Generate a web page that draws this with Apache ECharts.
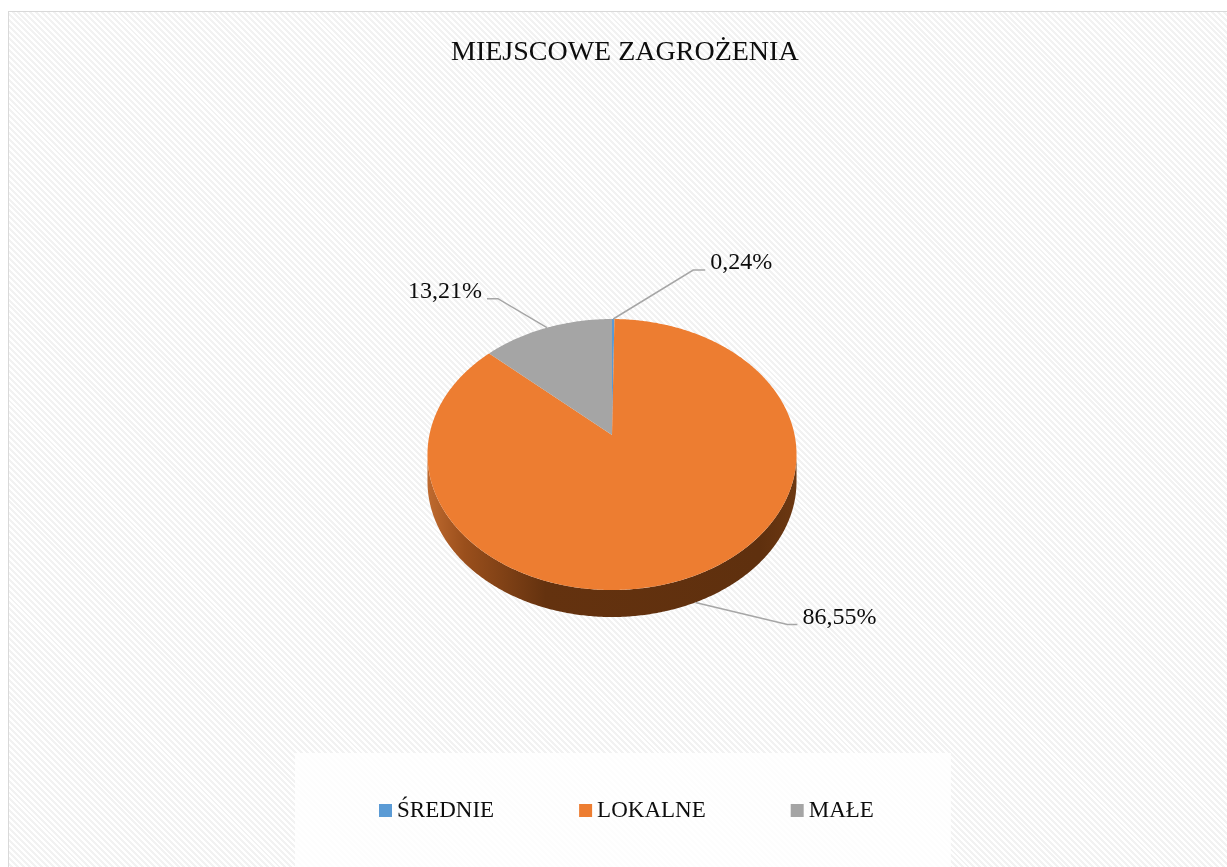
<!DOCTYPE html>
<html>
<head>
<meta charset="utf-8">
<script src="https://cdn.jsdelivr.net/npm/echarts@6/dist/echarts.min.js"></script>
<style>
  html, body { margin: 0; padding: 0; background: #fff; overflow: hidden; }
  .frame {
    position: absolute; left: 8px; top: 11px; width: 1240px; height: 880px;
    border: 1.5px solid #d9d9d9;
    background: repeating-linear-gradient(45deg, #ffffff 0 2.1px, #f2f2f2 2.1px 4.2px);
  }
  #chart { position: absolute; left: 0; top: 0; width: 1227px; height: 867px; }
</style>
</head>
<body>
<div class="frame"></div>
<div id="chart"></div>
<script>
const categories = ["ŚREDNIE", "LOKALNE", "MAŁE"];
const values = [0.24, 86.55, 13.21];
const valueLabels = ["0,24%", "86,55%", "13,21%"];
const colors = ["#5b9bd5", "#ed7d31", "#a5a5a5"];

// 3D pie look: perspective-tilted disc
const pie = { cx: 612, cy: 435, a: 182.6, b: 132.7, p: -0.144, depth: 27 };
// leader line offsets per slice: [elbow dx, elbow dy, horizontal run]
const leaders = [[80, -49, 12], [92, 22, 10], [-49, -29, -11]];

const total = values.reduce((s, v) => s + v, 0);
const starts = values.map((_, i) => values.slice(0, i).reduce((s, v) => s + v, 0) / total * Math.PI * 2);

function proj(t, drop) {
  const u = Math.sin(t), v = -Math.cos(t);
  const w = 1 + pie.p * v;
  return [pie.cx + pie.a * u / w, pie.cy + pie.b * v / w + (drop || 0)];
}
function arc(t0, t1, drop) {
  const n = Math.max(2, Math.ceil((t1 - t0) / (Math.PI / 360)) + 1);
  const pts = [];
  for (let k = 0; k < n; k++) pts.push(proj(t0 + (t1 - t0) * k / (n - 1), drop));
  return pts;
}

const wallLo = Math.acos(pie.p), wallHi = Math.PI * 2 - Math.acos(pie.p);
const wallFill = new echarts.graphic.LinearGradient(pie.cx - pie.a * 1.01, 0, pie.cx + pie.a * 1.01, 0, [
  { offset: 0, color: "#bf6a2f" },
  { offset: 0.1, color: "#9a4f1c" },
  { offset: 0.32, color: "#64320f" },
  { offset: 0.9, color: "#5f300e" },
  { offset: 1, color: "#6c3812" }
], true);

function renderSlice(params) {
  const i = params.seriesIndex;
  const t0 = starts[i], t1 = t0 + values[i] / total * Math.PI * 2;
  const children = [];
  const a = Math.max(t0, wallLo), b = Math.min(t1, wallHi);
  if (b > a) {
    const pts = arc(a, b, 0).concat(arc(a, b, pie.depth).reverse());
    children.push({ type: "polygon", shape: { points: pts }, style: { fill: wallFill } });
  }
  children.push({
    type: "polygon",
    shape: { points: [[pie.cx, pie.cy]].concat(arc(t0, t1, 0)) },
    style: { fill: colors[i] }
  });
  const mid = (t0 + t1) / 2;
  const onWall = mid > wallLo && mid < wallHi;
  const p0 = proj(mid, onWall ? pie.depth : 0);
  const [dx, dy, run] = leaders[i];
  const p1 = [p0[0] + dx, p0[1] + dy];
  const p2 = [p1[0] + run, p1[1]];
  children.push({
    type: "polyline",
    shape: { points: [p0, p1, p2] },
    style: { stroke: "#a6a6a6", lineWidth: 1.5, fill: null }
  });
  const right = run > 0;
  children.push({
    type: "text",
    style: {
      text: valueLabels[i],
      x: p2[0] + (right ? 5 : -5), y: p2[1] - 7,
      fill: "#0d0d0d",
      font: '24px "Liberation Serif"',
      align: right ? "left" : "right", verticalAlign: "middle",
      textAlign: right ? "left" : "right", textVerticalAlign: "middle"
    }
  });
  return { type: "group", children };
}

const chart = echarts.init(document.getElementById("chart"), null, { renderer: "canvas" });
chart.setOption({
  animation: false,
  backgroundColor: "transparent",
  title: {
    text: "MIEJSCOWE ZAGROŻENIA",
    left: 446, top: 34,
    textStyle: { fontFamily: "Liberation Serif", fontSize: 28, fontWeight: "normal", color: "#0d0d0d" }
  },
  legend: {
    left: 295, top: 753,
    padding: [46, 77, 60, 84],
    backgroundColor: "rgba(255,255,255,0.85)",
    itemGap: 85, itemWidth: 13, itemHeight: 13,
    icon: "rect",
    selectedMode: false,
    data: categories,
    textStyle: { fontFamily: "Liberation Serif", fontSize: 23, color: "#0d0d0d" }
  },
  series: categories.map((name, i) => ({
    name,
    type: "custom",
    coordinateSystem: "none",
    itemStyle: { color: colors[i] },
    data: [[values[i]]],
    renderItem: renderSlice
  }))
});
</script>
</body>
</html>
